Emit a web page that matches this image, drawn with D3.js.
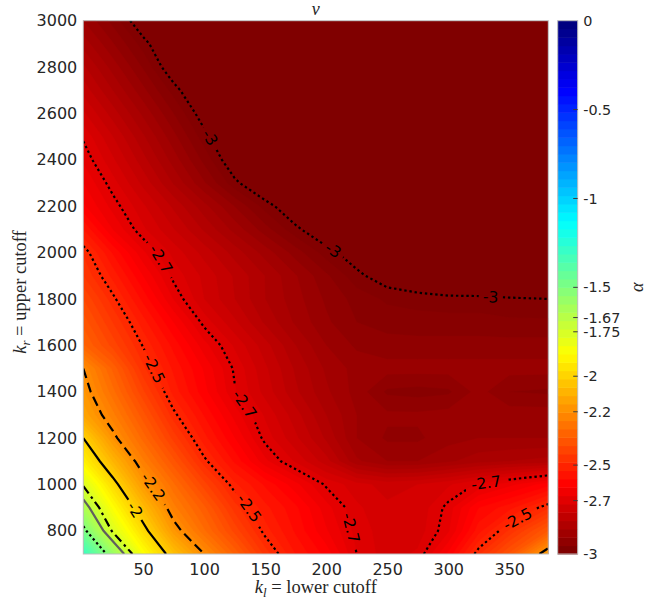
<!DOCTYPE html>
<html>
<head>
<meta charset="utf-8">
<script src="https://cdn.jsdelivr.net/npm/d3@7"></script>
<style>
  body { margin: 0; background: #fff; }
  svg { display: block; font-family: "DejaVu Sans", sans-serif; }
</style>
</head>
<body>
<svg width="667" height="604"></svg>
<script>
// k_l (columns) and k_r (rows) of the alpha grid
const kl = [1, 25, 50, 75, 100, 125, 150, 175, 200, 225, 250, 275, 300, 325, 350, 382];
const kr = [700, 800, 900, 1000, 1100, 1200, 1300, 1400, 1500, 1600, 1700, 1800,
            1900, 2000, 2100, 2200, 2300, 2400, 2500, 2600, 2700, 2800, 2900, 3000];

// alpha values, one row per k_r
const alpha = [
  [-1.29, -1.557, -1.854, -2.048, -2.2, -2.329, -2.459, -2.551, -2.61, -2.7, -2.74, -2.72, -2.62, -2.48, -2.37, -2.15],
  [-1.47, -1.76, -1.967, -2.168, -2.295, -2.409, -2.513, -2.58, -2.647, -2.71, -2.74, -2.74, -2.68, -2.56, -2.47, -2.35],
  [-1.62, -1.86, -2.062, -2.24, -2.343, -2.462, -2.542, -2.594, -2.665, -2.72, -2.745, -2.745, -2.69, -2.6, -2.56, -2.48],
  [-1.76, -1.965, -2.162, -2.295, -2.414, -2.518, -2.58, -2.642, -2.705, -2.74, -2.76, -2.75, -2.73, -2.695, -2.66, -2.61],
  [-1.9, -2.077, -2.244, -2.367, -2.49, -2.58, -2.668, -2.73, -2.79, -2.87, -2.9, -2.9, -2.88, -2.86, -2.85, -2.84],
  [-2.0, -2.18, -2.31, -2.435, -2.54, -2.625, -2.71, -2.77, -2.83, -2.9, -2.93, -2.93, -2.91, -2.9, -2.9, -2.9],
  [-2.13, -2.24, -2.365, -2.49, -2.577, -2.66, -2.73, -2.79, -2.85, -2.9, -2.92, -2.92, -2.915, -2.91, -2.91, -2.91],
  [-2.17, -2.29, -2.42, -2.535, -2.616, -2.697, -2.76, -2.82, -2.87, -2.91, -2.955, -2.96, -2.955, -2.915, -2.95, -2.955],
  [-2.2, -2.33, -2.468, -2.556, -2.629, -2.705, -2.77, -2.83, -2.88, -2.91, -2.915, -2.915, -2.915, -2.915, -2.915, -2.915],
  [-2.32, -2.41, -2.503, -2.584, -2.665, -2.73, -2.79, -2.85, -2.9, -2.93, -2.94, -2.94, -2.94, -2.94, -2.94, -2.94],
  [-2.36, -2.45, -2.539, -2.626, -2.71, -2.77, -2.83, -2.88, -2.92, -2.95, -2.96, -2.965, -2.965, -2.965, -2.97, -2.97],
  [-2.4, -2.49, -2.583, -2.677, -2.75, -2.8, -2.85, -2.89, -2.93, -2.96, -2.98, -2.985, -2.99, -2.99, -2.995, -3.0],
  [-2.45, -2.533, -2.626, -2.709, -2.757, -2.804, -2.851, -2.898, -2.945, -2.992, -3.02, -3.04, -3.06, -3.07, -3.08, -3.08],
  [-2.48, -2.578, -2.67, -2.734, -2.785, -2.836, -2.886, -2.937, -2.988, -3.02, -3.05, -3.08, -3.1, -3.12, -3.13, -3.13],
  [-2.55, -2.65, -2.72, -2.774, -2.829, -2.884, -2.939, -2.993, -3.03, -3.06, -3.09, -3.11, -3.13, -3.14, -3.15, -3.15],
  [-2.62, -2.685, -2.745, -2.806, -2.866, -2.926, -2.986, -3.03, -3.06, -3.09, -3.11, -3.13, -3.14, -3.15, -3.15, -3.15],
  [-2.65, -2.714, -2.783, -2.853, -2.922, -2.992, -3.04, -3.07, -3.1, -3.12, -3.14, -3.15, -3.15, -3.15, -3.15, -3.15],
  [-2.68, -2.745, -2.816, -2.887, -2.958, -3.03, -3.07, -3.1, -3.12, -3.14, -3.15, -3.15, -3.15, -3.15, -3.15, -3.15],
  [-2.705, -2.774, -2.846, -2.917, -2.989, -3.05, -3.09, -3.12, -3.14, -3.15, -3.15, -3.15, -3.15, -3.15, -3.15, -3.15],
  [-2.745, -2.812, -2.881, -2.95, -3.02, -3.07, -3.11, -3.13, -3.15, -3.15, -3.15, -3.15, -3.15, -3.15, -3.15, -3.15],
  [-2.785, -2.85, -2.918, -2.986, -3.05, -3.1, -3.13, -3.15, -3.15, -3.15, -3.15, -3.15, -3.15, -3.15, -3.15, -3.15],
  [-2.82, -2.885, -2.953, -3.03, -3.08, -3.12, -3.14, -3.15, -3.15, -3.15, -3.15, -3.15, -3.15, -3.15, -3.15, -3.15],
  [-2.86, -2.922, -2.987, -3.05, -3.1, -3.13, -3.15, -3.15, -3.15, -3.15, -3.15, -3.15, -3.15, -3.15, -3.15, -3.15],
  [-2.9, -2.959, -3.03, -3.08, -3.12, -3.15, -3.15, -3.15, -3.15, -3.15, -3.15, -3.15, -3.15, -3.15, -3.15, -3.15]
];

const xTicks = [50, 100, 150, 200, 250, 300, 350];
const yTicks = [800, 1000, 1200, 1400, 1600, 1800, 2000, 2200, 2400, 2600, 2800, 3000];
const cbTicks = [0, -0.5, -1, -1.5, -1.67, -1.75, -2, -2.2, -2.5, -2.7, -3];

// contour lines drawn over the fill
const lineLevels = [-3, -2.7, -2.5, -2.2, -2, -1.75, -1.67, -1.5];
const labelLevels = [-3, -2.7, -2.5, -2.2, -2];

const svg = d3.select("svg");
const W = 667, H = 604;

const x = d3.scaleLinear().domain([1, 382]).range([83.3, 548.3]);
const y = d3.scaleLinear().domain([700, 3000]).range([554, 20.7]);

const n = kl.length, m = kr.length;
const values = alpha.flat();
const gx = d3.scaleLinear().domain(d3.range(n)).range(kl);
const gy = d3.scaleLinear().domain(d3.range(m)).range(kr);
const clampI = (v, k) => Math.max(0, Math.min(k - 1, v - 0.5));
const toPx = g => [x(gx(g[0])), y(gy(g[1]))];
const proj = p => toPx([clampI(p[0], n), clampI(p[1], m)]);

// reversed jet over -3 .. 0
function jet(t) {
  const c = v => Math.round(255 * Math.max(0, Math.min(1, v)));
  return `rgb(${c(1.5 - Math.abs(4 * t - 3))},${c(1.5 - Math.abs(4 * t - 2))},${c(1.5 - Math.abs(4 * t - 1))})`;
}
const jetV = v => jet(Math.max(0, Math.min(1, -v / 3)));
function cmap64(v) {
  let k = Math.floor((v + 3) / 3 * 64 + 1e-9);
  k = Math.max(0, Math.min(63, k));
  return jet((63 - k) / 63);
}

const defs = svg.append("defs");
defs.append("clipPath").attr("id", "clip")
  .append("rect").attr("x", x(1)).attr("y", y(3000))
  .attr("width", x(382) - x(1)).attr("height", y(700) - y(3000));

// filled contours
const plot = svg.append("g").attr("clip-path", "url(#clip)");
plot.append("rect").attr("x", x(1)).attr("y", y(3000))
  .attr("width", x(382) - x(1)).attr("height", y(700) - y(3000))
  .attr("fill", jetV(-3));

const fillLevels = d3.range(0, 121).map(i => -3 + i * 0.025);
d3.contours().size([n, m]).thresholds(fillLevels)(values).forEach(c => {
  if (!c.coordinates.length) return;
  const d = c.coordinates.map(poly => poly.map(ring => "M" + ring.map(proj).join("L") + "Z").join("")).join("");
  const col = c.value <= -3 ? jetV(-2.99) : jetV(c.value);
  plot.append("path").attr("d", d)
    .attr("fill", col)
    .attr("stroke", col).attr("stroke-width", 0.4)
    .attr("fill-rule", "evenodd");
});

// split contour rings into open lines (drop the parts along the plot border)
function splitRing(ring) {
  const pts = ring.map(p => [clampI(p[0], n), clampI(p[1], m)]);
  const N = pts.length - 1;
  const onEdge = (a, b) => (a[0] === 0 && b[0] === 0) || (a[0] === n - 1 && b[0] === n - 1) ||
                           (a[1] === 0 && b[1] === 0) || (a[1] === m - 1 && b[1] === m - 1);
  let start = -1;
  for (let i = 0; i < N; i++) if (onEdge(pts[i], pts[i + 1])) { start = i; break; }
  if (start < 0) return [pts.map(toPx)];
  const lines = [];
  let cur = null;
  for (let k = 1; k <= N; k++) {
    const i = (start + k) % N;
    const a = pts[i], b = pts[i + 1];
    if (onEdge(a, b)) {
      if (cur && cur.length > 1) lines.push(cur);
      cur = null;
    } else {
      if (!cur) cur = [a];
      cur.push(b);
    }
  }
  if (cur && cur.length > 1) lines.push(cur);
  return lines.map(l => {
    const px = l.map(toPx);
    return px[0][0] > px[px.length - 1][0] ? px.reverse() : px;
  });
}

function styleFor(level) {
  if (level === -2.2) return { dash: "10,5", color: "#000" };
  if (level === -2) return { dash: null, color: "#000" };
  if (level === -1.75) return { dash: "9,4,2.5,4", color: "#000" };
  if (level === -1.67) return { dash: null, color: "#5f5f5f" };
  return { dash: "2.4,2.8", color: "#000" };
}

const mask = defs.append("mask").attr("id", "lblmask")
  .attr("maskUnits", "userSpaceOnUse").attr("x", 0).attr("y", 0).attr("width", W).attr("height", H);
mask.append("rect").attr("width", W).attr("height", H).attr("fill", "#fff");

const lineG = svg.append("g").attr("clip-path", "url(#clip)").append("g").attr("mask", "url(#lblmask)");
const labels = [];

lineLevels.forEach(level => {
  const geo = d3.contours().size([n, m]).contour(values, level);
  const st = styleFor(level);
  geo.coordinates.forEach(poly => poly.forEach(ring => {
    splitRing(ring).forEach(pts => {
      lineG.append("path")
        .attr("d", d3.line()(pts))
        .attr("fill", "none")
        .attr("stroke", st.color)
        .attr("stroke-width", 2.2)
        .attr("stroke-dasharray", st.dash);
      if (!labelLevels.includes(level)) return;
      const cum = [0];
      for (let i = 1; i < pts.length; i++)
        cum.push(cum[i - 1] + Math.hypot(pts[i][0] - pts[i - 1][0], pts[i][1] - pts[i - 1][1]));
      const L = cum[cum.length - 1];
      if (L < 50) return;
      const at = s => {
        s = Math.max(0, Math.min(L, s));
        let i = d3.bisectLeft(cum, s);
        if (i <= 0) return pts[0];
        const t = (s - cum[i - 1]) / (cum[i] - cum[i - 1] || 1);
        return [pts[i - 1][0] + t * (pts[i][0] - pts[i - 1][0]), pts[i - 1][1] + t * (pts[i][1] - pts[i - 1][1])];
      };
      for (let s = Math.min(142, 0.62 * L); s < L - 25; s += 170) {
        const p = at(s), a = at(s - 10), b = at(s + 10);
        let ang = Math.atan2(b[1] - a[1], b[0] - a[0]) * 180 / Math.PI;
        if (ang > 90) ang -= 180;
        if (ang < -90) ang += 180;
        labels.push({ p, ang, text: String(level) });
      }
    });
  }));
});

labels.forEach(l => {
  const w = l.text.length * 9 + 6;
  mask.append("rect")
    .attr("x", -w / 2).attr("y", -9).attr("width", w).attr("height", 18)
    .attr("transform", `translate(${l.p[0]},${l.p[1]}) rotate(${l.ang})`)
    .attr("fill", "#000");
  svg.append("text")
    .attr("transform", `translate(${l.p[0]},${l.p[1]}) rotate(${l.ang})`)
    .attr("text-anchor", "middle").attr("dy", "0.36em")
    .attr("font-size", 15.5).attr("fill", "#000")
    .text(l.text);
});

// plot border
svg.append("rect").attr("x", x(1)).attr("y", y(3000))
  .attr("width", x(382) - x(1)).attr("height", y(700) - y(3000))
  .attr("fill", "none").attr("stroke", "#bdbdbd").attr("stroke-width", 1);

// axes
const tickCol = "#262626";
const xAxis = svg.append("g").attr("transform", `translate(0,${y(700)})`)
  .call(d3.axisBottom(x).tickValues(xTicks).tickFormat(d => String(d)).tickSize(0).tickPadding(9.5));
const yAxis = svg.append("g").attr("transform", `translate(${x(1)},0)`)
  .call(d3.axisLeft(y).tickValues(yTicks).tickFormat(d => String(d)).tickSize(0).tickPadding(6));
[xAxis, yAxis].forEach(g => {
  g.select(".domain").remove();
  g.selectAll("text").attr("font-size", 16).attr("font-family", "DejaVu Sans").attr("fill", tickCol);
});

// colorbar (64 steps)
const cbX = 557.7, cbW = 20;
const cy = d3.scaleLinear().domain([-3, 0]).range([554, 20.7]);
const cbSteps = d3.range(64);
svg.append("g").selectAll("rect").data(cbSteps).join("rect")
  .attr("x", cbX).attr("width", cbW)
  .attr("y", k => cy(-3 + (k + 1) * 3 / 64))
  .attr("height", k => cy(-3 + k * 3 / 64) - cy(-3 + (k + 1) * 3 / 64) + 0.5)
  .attr("fill", k => cmap64(-3 + (k + 0.5) * 3 / 64));
svg.append("rect").attr("x", cbX).attr("y", cy(0)).attr("width", cbW).attr("height", cy(-3) - cy(0))
  .attr("fill", "none").attr("stroke", "#bdbdbd");
svg.append("g").selectAll("line").data(cbTicks.filter(v => v > -3 && v < 0)).join("line")
  .attr("x1", cbX + cbW - 4.5).attr("x2", cbX + cbW)
  .attr("y1", d => cy(d)).attr("y2", d => cy(d))
  .attr("stroke", "#3a3a3a").attr("stroke-width", 1);
const cbAxis = svg.append("g").attr("transform", `translate(${cbX + cbW},0)`)
  .call(d3.axisRight(cy).tickValues(cbTicks).tickFormat(d => String(d)).tickSize(0).tickPadding(5.5));
cbAxis.select(".domain").remove();
cbAxis.selectAll("text").attr("font-size", 14.4).attr("font-family", "DejaVu Sans").attr("fill", tickCol);

// colorbar label
svg.append("text")
  .attr("transform", `translate(643,${cy(-1.5)}) rotate(-90)`)
  .attr("text-anchor", "middle")
  .attr("font-family", "Liberation Serif").attr("font-style", "italic").attr("font-size", 18)
  .attr("fill", tickCol)
  .text("α");

// title
svg.append("text").attr("x", (x(1) + x(382)) / 2).attr("y", 14.5)
  .attr("text-anchor", "middle")
  .attr("font-family", "Liberation Serif").attr("font-style", "italic").attr("font-size", 18)
  .attr("fill", tickCol)
  .text("v");

// axis labels
function mathLabel(g, sub, rest) {
  const t = g.append("text").attr("text-anchor", "middle")
    .attr("font-family", "Liberation Serif").attr("font-size", 18.5).attr("fill", tickCol);
  t.append("tspan").attr("font-style", "italic").text("k");
  t.append("tspan").attr("font-style", "italic").attr("font-size", 13).attr("dy", 4).text(sub);
  t.append("tspan").attr("dy", -4).text(" = " + rest);
  return t;
}
mathLabel(svg.append("g").attr("transform", `translate(${(x(1) + x(382)) / 2},593)`), "l", "lower cutoff");
mathLabel(svg.append("g").attr("transform", `translate(26,292) rotate(-90)`), "r", "upper cutoff");
</script>
</body>
</html>
